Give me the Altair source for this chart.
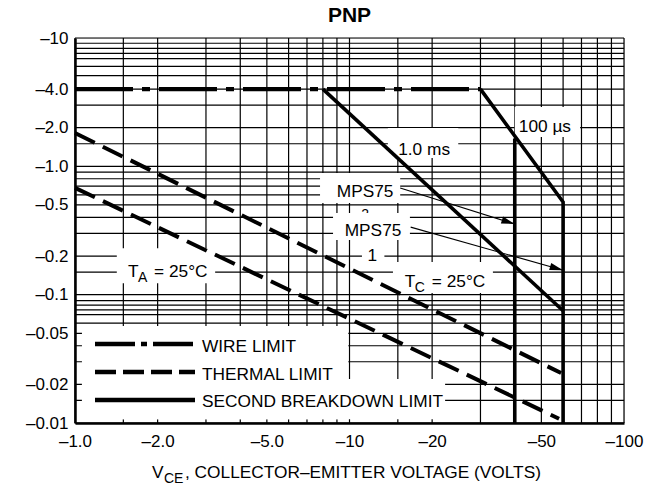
import altair as alt
import pandas as pd

LABEL_FONT = "Liberation Sans, Arial, sans-serif"
TICK_FONT = "Liberation Sans, Arial, sans-serif"

# ---------------- data ----------------
x_grid = [1, 1.5, 2, 3, 4, 5, 6, 7, 8, 9, 10, 15, 20, 30, 40, 50, 60, 70, 80, 90, 100]
y_grid = [10, 9.1, 8.3, 7.6, 6.9, 6, 5.1, 4, 3, 2, 1.5, 1, 0.9, 0.8, 0.7, 0.6, 0.5,
          0.4, 0.3, 0.2, 0.15, 0.1, 0.09, 0.083, 0.076, 0.07, 0.06, 0.05, 0.04,
          0.03, 0.02, 0.015, 0.01]
x_ticks = [1, 2, 5, 10, 20, 50, 100]
x_tick_labels = ["–1.0", "–2.0", "–5.0", "–10", "–20", "–50", "–100"]
y_ticks = [10, 4, 2, 1, 0.5, 0.2, 0.1, 0.05, 0.02, 0.01]
y_tick_labels = ["–10", "–4.0", "–2.0", "–1.0", "–0.5", "–0.2", "–0.1", "–0.05", "–0.02", "–0.01"]

# curves (|VCE| volts, |IC| amps)
wire_v = [1, 30]
wire_i = [4, 4]
thermal_hi_v = [1, 59]
thermal_hi_i = [1.82, 0.0245]
thermal_lo_v = [1, 58]
thermal_lo_i = [0.68, 0.0108]
ms1_v = [8, 60]
ms1_i = [4, 0.075]
us100_v = [30, 60, 60]
us100_i = [4, 0.527, 0.01]
bv40_v = [40, 40]
bv40_i = [1.65, 0.01]

# annotation anchors (data coordinates)
arrow1_v = [15.3, 40]
arrow1_i = [0.678, 0.355]
arrow2_v = [16.7, 60]
arrow2_i = [0.336, 0.155]

# white label backgrounds: v, v2, i, i2
bg_v = [1.42, 14.4, 13.8, 40, 7.81, 1.06, 1.06]
bg_v2 = [3.24, 33.3, 24.9, 69.2, 15.3, 9.9, 22.3]
bg_i = [0.123, 0.103, 1.16, 1.69, 0.518, 0.0107, 0.0107]
bg_i2 = [0.23, 0.18, 1.99, 2.9, 0.887, 0.057, 0.022]
bg2_v = [8.71, 11.1]
bg2_v2 = [16.6, 13.4]
bg2_i = [0.267, 0.178]
bg2_i2 = [0.432, 0.244]

# ---------------- scales / axes ----------------
xs = alt.Scale(type="log", domain=[1, 100], nice=False)
ys = alt.Scale(type="log", domain=[0.01, 10], nice=False)


def label_expr(vals, labels):
    s = "''"
    for v, l in reversed(list(zip(vals, labels))):
        s = f"datum.value == {v} ? '{l}' : ({s})"
    return s


xax = alt.Axis(values=x_ticks, labelExpr=label_expr(x_ticks, x_tick_labels), title=None,
               grid=False, ticks=False, tickSize=0, domainColor="black", domainWidth=2.5,
               labelFont=TICK_FONT, labelFontSize=17, labelColor="black", labelPadding=10,
               labelFlush=False, labelOverlap=False, zindex=1)
yax = alt.Axis(values=y_ticks, labelExpr=label_expr(y_ticks, y_tick_labels), title=None,
               grid=False, ticks=False, tickSize=0, domainColor="black", domainWidth=2.5,
               labelFont=TICK_FONT, labelFontSize=17, labelColor="black", labelPadding=7,
               labelFlush=False, labelOverlap=False, zindex=1)

X = lambda f="v": alt.X(f"{f}:Q", scale=xs, axis=xax)
Y = lambda f="i": alt.Y(f"{f}:Q", scale=ys, axis=yax)


def series(pairs):
    rows = []
    for name, vs, is_ in pairs:
        for k, (v, i) in enumerate(zip(vs, is_)):
            rows.append({"s": name, "k": k, "v": v, "i": i})
    return pd.DataFrame(rows)


# ---------------- layers ----------------
grid_x = alt.Chart(pd.DataFrame({"v": x_grid})).mark_rule(color="black", strokeWidth=1.2).encode(x=X())
grid_y = alt.Chart(pd.DataFrame({"i": y_grid})).mark_rule(color="black", strokeWidth=1.2).encode(y=Y())

bg = alt.Chart(pd.DataFrame({"v": bg_v, "v2": bg_v2, "i": bg_i, "i2": bg_i2})).mark_rect(
    color="white").encode(x=X(), x2="v2:Q", y=Y(), y2="i2:Q")
bg2 = alt.Chart(pd.DataFrame({"v": bg2_v, "v2": bg2_v2, "i": bg2_i, "i2": bg2_i2})).mark_rect(
    color="white").encode(x=X(), x2="v2:Q", y=Y(), y2="i2:Q")

wire = alt.Chart(series([("wire", wire_v, wire_i)])).mark_line(
    color="black", strokeWidth=4.3, strokeDash=[58, 9, 8, 9], strokeCap="butt").encode(
    x=X(), y=Y(), order="k:Q")
thermal = alt.Chart(series([("hi", thermal_hi_v, thermal_hi_i), ("lo", thermal_lo_v, thermal_lo_i)])).mark_line(
    color="black", strokeWidth=4, strokeDash=[22, 9], strokeCap="butt").encode(
    x=X(), y=Y(), detail="s:N", order="k:Q")
sb = alt.Chart(series([("ms1", ms1_v, ms1_i), ("us100", us100_v, us100_i), ("bv40", bv40_v, bv40_i)])).mark_line(
    color="black", strokeWidth=3.6, strokeJoin="miter").encode(
    x=X(), y=Y(), detail="s:N", order="k:Q")

arrows = alt.Chart(series([("a1", arrow1_v, arrow1_i), ("a2", arrow2_v, arrow2_i)])).mark_line(
    color="black", strokeWidth=1.1).encode(x=X(), y=Y(), detail="s:N", order="k:Q")
ARROW = "M0,0L-2,-0.55L-2,0.55Z"
head1 = alt.Chart(pd.DataFrame({"v": [arrow1_v[-1]], "i": [arrow1_i[-1]]})).mark_point(
    shape=ARROW, filled=True, color="black", opacity=1, size=180, angle=17.7).encode(x=X(), y=Y())
head2 = alt.Chart(pd.DataFrame({"v": [arrow2_v[-1]], "i": [arrow2_i[-1]]})).mark_point(
    shape=ARROW, filled=True, color="black", opacity=1, size=180, angle=15.9).encode(x=X(), y=Y())

FS = 17.3


def dtext(v, i, t, size=FS, align="center", dx=0, dy=0):
    return alt.Chart(pd.DataFrame({"v": [v], "i": [i], "t": [t]})).mark_text(
        font=LABEL_FONT, fontSize=size, align=align, baseline="alphabetic", dx=dx, dy=dy,
        color="black").encode(x=X(), y=Y(), text="t:N")


def ptext(x, y, t, size=FS, align="left", weight="normal", font=LABEL_FONT):
    return alt.Chart(pd.DataFrame({"t": [t]})).mark_text(
        font=font, fontSize=size, align=align, baseline="alphabetic", fontWeight=weight,
        color="black").encode(x=alt.value(x), y=alt.value(y), text="t:N")


texts1 = [
    dtext(18.7, 1.225, "1.0 ms"),
    dtext(51.5, 1.85, "100 µs"),
    dtext(11.4, 0.576, "MPS75"),
    dtext(11.4, 0.39, "2", size=14),
    dtext(1.56, 0.137, "T", align="left"),
    dtext(1.56, 0.137, "A", size=14, align="left", dx=10, dy=5),
    dtext(1.56, 0.137, "= 25°C", align="left", dx=26),
    dtext(15.9, 0.1146, "T", align="left"),
    dtext(15.9, 0.1146, "C", size=14, align="left", dx=10, dy=5),
    dtext(15.9, 0.1146, "= 25°C", align="left", dx=27),
]
texts2 = [
    dtext(12.18, 0.286, "MPS75"),
    dtext(12.1, 0.183, "1"),
]

# legend (layout in pixels)
def leg_line(y, dash):
    kw = dict(color="black", strokeWidth=4.3, strokeCap="butt")
    if dash:
        kw["strokeDash"] = dash
    return alt.Chart(pd.DataFrame({"a": [0]})).mark_rule(**kw).encode(
        x=alt.value(20), x2=alt.value(120), y=alt.value(y))


legend = [
    leg_line(306, [40, 6, 6, 6]),
    leg_line(334, [21, 7]),
    leg_line(362, None),
    ptext(127, 314, "WIRE LIMIT"),
    ptext(127, 342, "THERMAL LIMIT"),
    ptext(127, 369, "SECOND BREAKDOWN LIMIT"),
]

titles = [
    ptext(274.5, -16, "PNP", size=21, align="center", weight="bold", font=TICK_FONT),
    ptext(77, 440, "V", size=FS),
    ptext(89, 445, "CE", size=14),
    ptext(110, 440, ", COLLECTOR–EMITTER VOLTAGE (VOLTS)", size=FS),
]

chart = alt.layer(
    grid_x, grid_y, bg, wire, thermal, sb, *texts1, bg2, *texts2, arrows, head1, head2,
    *legend, *titles
).properties(
    width=549, height=385,
    autosize=alt.AutoSizeParams(type="none"),
    padding={"left": 75, "top": 38, "right": 31, "bottom": 67},
).configure_view(stroke="black", strokeWidth=1.5).configure(background="white")

chart.save("out.html", embed_options={"renderer": "svg", "actions": False})
